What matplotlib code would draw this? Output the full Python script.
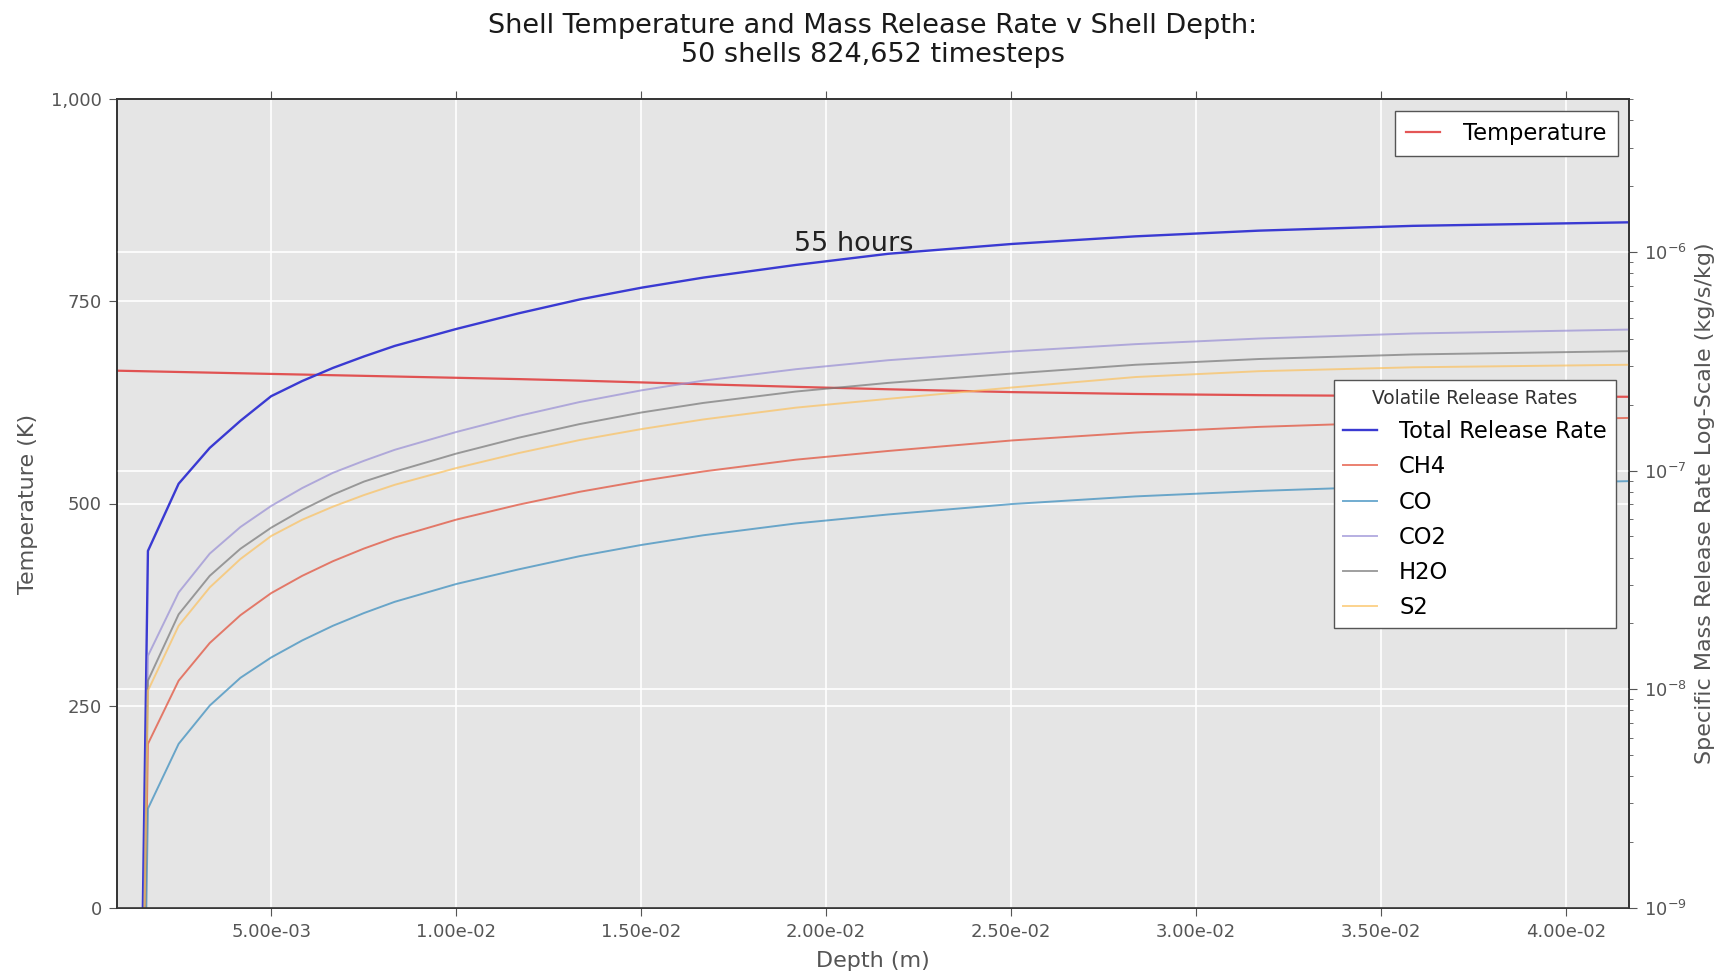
import matplotlib
matplotlib.use('Agg')
import matplotlib.pyplot as plt
from matplotlib.ticker import MultipleLocator, FormatStrFormatter, FuncFormatter

# shell depths (m) - subset of the 50 shells
depth = [0.000834, 0.00167, 0.0025, 0.00334, 0.00417, 0.005, 0.00584, 0.00667,
         0.00751, 0.00834, 0.01001, 0.01168, 0.01334, 0.01501, 0.01668, 0.01918,
         0.02168, 0.02502, 0.02836, 0.03169, 0.03586, 0.0417]

temperature = [664.3, 663.5, 662.7, 661.9, 661.1, 660.3, 659.5, 658.7,
               657.9, 657.1, 655.5, 653.9, 652.0, 649.8, 647.5, 644.3,
               641.3, 637.8, 635.5, 634.0, 632.9, 632.0]

total_rate = [5e-18, 4.29e-8, 8.71e-8, 1.27e-7, 1.69e-7, 2.19e-7, 2.57e-7, 2.95e-7,
              3.33e-7, 3.72e-7, 4.45e-7, 5.24e-7, 6.07e-7, 6.87e-7, 7.64e-7, 8.73e-7,
              9.82e-7, 1.089e-6, 1.180e-6, 1.253e-6, 1.318e-6, 1.368e-6]
ch4 = [5e-18, 5.62e-9, 1.094e-8, 1.626e-8, 2.18e-8, 2.75e-8, 3.30e-8, 3.85e-8,
       4.40e-8, 4.94e-8, 5.97e-8, 6.98e-8, 8.00e-8, 8.97e-8, 9.91e-8, 1.122e-7,
       1.230e-7, 1.374e-7, 1.493e-7, 1.585e-7, 1.671e-7, 1.742e-7]
co = [5e-18, 2.84e-9, 5.62e-9, 8.41e-9, 1.127e-8, 1.396e-8, 1.671e-8, 1.95e-8,
      2.23e-8, 2.51e-8, 3.03e-8, 3.53e-8, 4.06e-8, 4.57e-8, 5.06e-8, 5.73e-8,
      6.30e-8, 7.03e-8, 7.62e-8, 8.07e-8, 8.53e-8, 8.95e-8]
co2 = [5e-18, 1.42e-8, 2.77e-8, 4.17e-8, 5.52e-8, 6.89e-8, 8.32e-8, 9.77e-8,
       1.109e-7, 1.245e-7, 1.503e-7, 1.778e-7, 2.06e-7, 2.33e-7, 2.58e-7, 2.91e-7,
       3.20e-7, 3.51e-7, 3.79e-7, 4.02e-7, 4.24e-7, 4.42e-7]
h2o = [5e-18, 1.094e-8, 2.20e-8, 3.30e-8, 4.39e-8, 5.48e-8, 6.61e-8, 7.76e-8,
       8.91e-8, 9.89e-8, 1.197e-7, 1.413e-7, 1.633e-7, 1.845e-7, 2.04e-7, 2.30e-7,
       2.52e-7, 2.78e-7, 3.05e-7, 3.24e-7, 3.40e-7, 3.52e-7]
s2 = [5e-18, 9.84e-9, 1.95e-8, 2.92e-8, 3.94e-8, 5.02e-8, 5.96e-8, 6.84e-8,
      7.73e-8, 8.61e-8, 1.028e-7, 1.202e-7, 1.380e-7, 1.549e-7, 1.714e-7, 1.941e-7,
      2.13e-7, 2.40e-7, 2.68e-7, 2.85e-7, 2.97e-7, 3.05e-7]

gases = [('Total Release Rate', total_rate, '#3a3ad2', 1.0, 1.7),
         ('CH4', ch4, '#E24A33', 0.7, 1.4),
         ('CO', co, '#348ABD', 0.7, 1.4),
         ('CO2', co2, '#988ED5', 0.7, 1.4),
         ('H2O', h2o, '#777777', 0.7, 1.4),
         ('S2', s2, '#FBC15E', 0.7, 1.4)]

grey = '#555555'

fig = plt.figure(figsize=(17.27, 9.76), dpi=100)
ax1 = fig.add_axes([117/1727, 1-907.7/976, (1629-117)/1727, (907.7-99.3)/976])
ax1.set_facecolor('#E5E5E5')
ax1.set_axisbelow(True)

ax1.plot(depth, temperature, color='#e03838', alpha=0.85, lw=1.6, label='Temperature')
ax1.set_xlim(depth[0], depth[-1])
ax1.set_ylim(0, 1000)
ax1.yaxis.set_major_locator(MultipleLocator(250))
ax1.yaxis.set_major_formatter(FuncFormatter(lambda v, p: '{:,.0f}'.format(v)))
ax1.xaxis.set_major_locator(MultipleLocator(0.005))
ax1.xaxis.set_major_formatter(FormatStrFormatter('%.2e'))
ax1.grid(True, color='white', lw=1.2)
ax1.tick_params(direction='out', length=6, pad=5, labelsize=13, colors=grey,
                top=True, labelcolor=grey)
ax1.set_xlabel('Depth (m)', fontsize=16, color=grey, labelpad=7)
ax1.set_ylabel('Temperature (K)', fontsize=16, color=grey, labelpad=9)
for sp in ax1.spines.values():
    sp.set_color('#333333')
    sp.set_linewidth(1.2)

ax1.text(0.448, 0.812, '55 hours', transform=ax1.transAxes, fontsize=19.5,
         va='baseline', color='#222222')

leg1 = ax1.legend(loc='upper right', fontsize=16.3, handlelength=1.5, handletextpad=1.0,
                  borderpad=0.5, fancybox=False, framealpha=1, facecolor='white',
                  edgecolor=grey)
leg1.get_frame().set_linewidth(1.0)

ax2 = ax1.twinx()
for name, vals, col, a, lw in gases:
    ax2.plot(depth, vals, color=col, alpha=a, lw=lw, label=name)
ax2.set_yscale('log')
ax2.set_ylim(1e-9, 5e-6)
ax2.grid(True, axis='y', which='major', color='white', lw=1.2)
ax2.tick_params(which='both', direction='out', labelsize=13, colors=grey, pad=5)
ax2.tick_params(which='major', length=6)
ax2.tick_params(which='minor', length=3)
ax2.set_ylabel('Specific Mass Release Rate Log-Scale (kg/s/kg)', fontsize=16,
               color=grey, labelpad=6)
for sp in ax2.spines.values():
    sp.set_color('#333333')
    sp.set_linewidth(1.2)

leg2 = ax2.legend(loc='upper right', bbox_to_anchor=(0.9914, 0.653), borderaxespad=0,
                  title='Volatile Release Rates', title_fontsize=13.4, fontsize=16.3,
                  handlelength=1.5, handletextpad=1.0, labelspacing=0.54, borderpad=0.4,
                  fancybox=False, framealpha=1, facecolor='white', edgecolor=grey)
leg2.get_frame().set_linewidth(1.0)
leg2.get_title().set_color('#333333')

fig.text(873/1727, 1-68/976,
         'Shell Temperature and Mass Release Rate v Shell Depth:\n50 shells 824,652 timesteps',
         ha='center', va='bottom', fontsize=19.5, color='#1a1a1a', linespacing=1.15)

fig.savefig('out.png', dpi=100)
